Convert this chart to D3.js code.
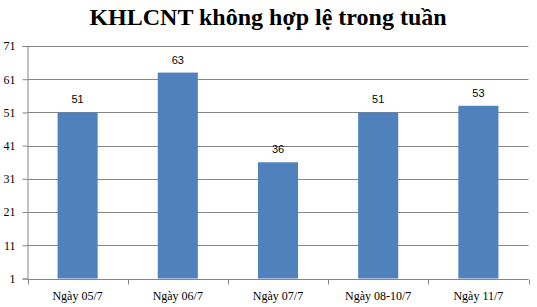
<!DOCTYPE html>
<html><head><meta charset="utf-8">
<script src="https://cdn.jsdelivr.net/npm/d3@7"></script>
<style>body{margin:0;background:#fff}</style>
</head><body>
<svg id="c" width="537" height="307"></svg>
<script>
const categories = ["Ngày 05/7","Ngày 06/7","Ngày 07/7","Ngày 08-10/7","Ngày 11/7"];
const values = [51,63,36,51,53];
const yTicks = [1,11,21,31,41,51,61,71];
const title = "KHLCNT không hợp lệ trong tuần";

const svg = d3.select("#c");
const mLeft = 27.5, mRight = 528.5, mTop = 46, mBottom = 278.5;
const x = d3.scaleBand().domain(categories).range([mLeft, mRight]).paddingInner(0.6).paddingOuter(0.3);
const y = d3.scaleLinear().domain([1,71]).range([mBottom, mTop]);

svg.append("text").attr("x",268).attr("y",25).attr("text-anchor","middle")
  .attr("font-family","Liberation Serif, Times New Roman, serif").attr("font-weight","bold")
  .attr("font-size",24).text(title);

// gridlines
svg.append("g").selectAll("line").data(yTicks.filter(d=>d!==1)).join("line")
  .attr("x1",mLeft).attr("x2",mRight).attr("y1",d=>Math.round(y(d))+0.5).attr("y2",d=>Math.round(y(d))+0.5)
  .attr("stroke","#868686").attr("stroke-width",1);

// y axis
const ya = svg.append("g").attr("transform",`translate(${mLeft},0)`)
  .call(d3.axisLeft(y).tickValues(yTicks).tickSize(5).tickPadding(7).tickFormat(d3.format("d")));
ya.select(".domain").attr("stroke","#868686");
ya.selectAll(".tick line").attr("stroke","#868686");
ya.selectAll(".tick text").attr("font-family","Liberation Serif, Times New Roman, serif").attr("font-size",12).attr("fill","#000");

// bars
svg.append("g").selectAll("rect").data(values).join("rect")
  .attr("x",(d,i)=>x(categories[i])).attr("width",x.bandwidth())
  .attr("y",d=>y(d)).attr("height",d=>mBottom-y(d)).attr("fill","#4F81BD");

// x axis
const xb = d3.scaleLinear().domain([0,5]).range([mLeft,mRight]);
const xa = svg.append("g").attr("transform",`translate(0,${Math.round(mBottom)+0.5})`);
xa.append("line").attr("x1",mLeft).attr("x2",mRight).attr("stroke","#868686");
xa.selectAll("line.t").data(d3.range(6)).join("line").attr("class","t")
  .attr("x1",d=>Math.round(xb(d))+0.5).attr("x2",d=>Math.round(xb(d))+0.5).attr("y1",0).attr("y2",5).attr("stroke","#868686");
xa.selectAll("text").data(categories).join("text")
  .attr("x",d=>x(d)+x.bandwidth()/2).attr("y",20).attr("text-anchor","middle")
  .attr("font-family","Liberation Serif, Times New Roman, serif").attr("font-size",12).text(d=>d);

// data labels
svg.append("g").selectAll("text").data(values).join("text")
  .attr("x",(d,i)=>x(categories[i])+x.bandwidth()/2).attr("y",d=>y(d)-9)
  .attr("text-anchor","middle").attr("font-family","Liberation Sans, Arial, sans-serif")
  .attr("font-size",11).attr("fill","#000").text(d=>d);
</script>
</body></html>
